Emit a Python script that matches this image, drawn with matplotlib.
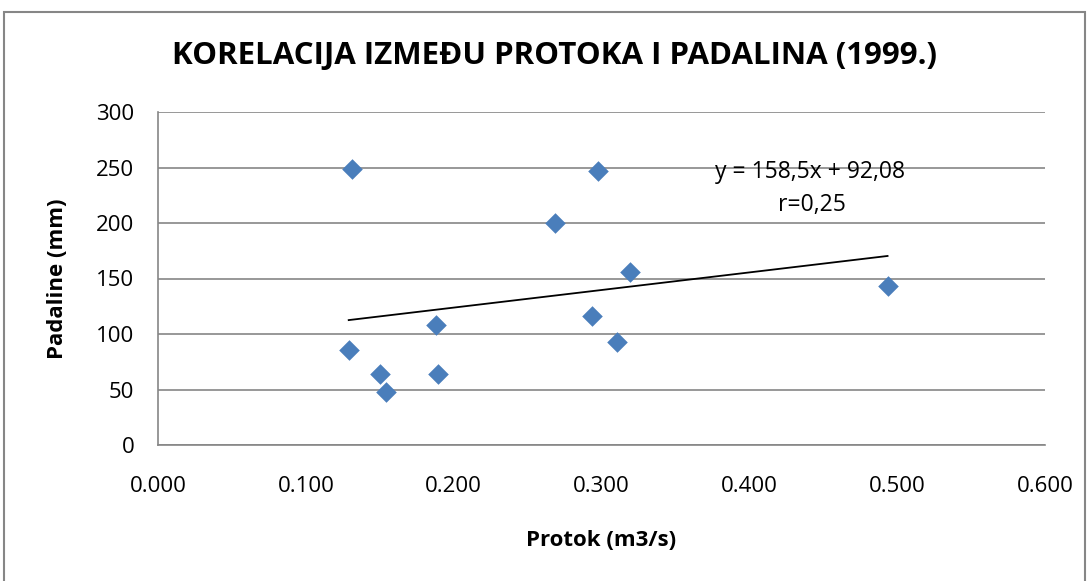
import matplotlib
matplotlib.use("Agg")
import matplotlib.pyplot as plt
import numpy as np

protok = [0.131, 0.2975, 0.2686, 0.3193, 0.4935, 0.2934, 0.3108, 0.188, 0.129, 0.150, 0.1895, 0.154]
padaline = [248.6, 246.8, 199.7, 155.6, 143.2, 116.5, 92.8, 107.8, 85.6, 63.7, 64.0, 48.0]
slope = 158.5
intercept = 92.08
eq_text = "y = 158,5x + 92,08"
r_text = "r=0,25"
title = "KORELACIJA IZMEĐU PROTOKA I PADALINA (1999.)"
xlabel = "Protok (m3/s)"
ylabel = "Padaline (mm)"
xticks = [0.0, 0.1, 0.2, 0.3, 0.4, 0.5, 0.6]
yticks = [0, 50, 100, 150, 200, 250, 300]

plt.rcParams['font.family'] = ['Open Sans', 'DejaVu Sans']

W, H = 1089, 581
fig = plt.figure(figsize=(W / 100, H / 100), dpi=100)
# outer chart border
fig.patches.append(plt.Rectangle((4 / W, -0.1), 1081 / W, 1.1 - 12 / H,
                                 transform=fig.transFigure, fill=False,
                                 edgecolor='#868686', linewidth=1.5))
ax = fig.add_axes([158 / W, 1 - 445 / H, (1045 - 158) / W, (445 - 112) / H])

ax.set_xlim(0, 0.6)
ax.set_ylim(0, 300)
ax.set_xticks(xticks)
ax.set_xticklabels([f"{t:.3f}" for t in xticks])
ax.set_yticks(yticks)
ax.grid(axis='y', color='#868686', linewidth=1.2)
ax.set_axisbelow(True)
for s in ['top', 'right']:
    ax.spines[s].set_visible(False)
for s in ['left', 'bottom']:
    ax.spines[s].set_color('#868686')
    ax.spines[s].set_linewidth(1.2)
ax.tick_params(length=0, labelsize=16)
ax.tick_params(axis='y', pad=17)
ax.tick_params(axis='x', pad=22)

xs = np.array([min(protok), max(protok)])
ax.plot(xs, slope * xs + intercept, color='black', linewidth=1.3, zorder=2)
ax.scatter(protok, padaline, marker='D', s=110, color='#4A7EBB', zorder=3, linewidths=0)

ax.text(0.4412, 246.0, eq_text, fontsize=16.5, ha='center', va='center')
ax.text(0.4424, 216.0, r_text, fontsize=16.5, ha='center', va='center')

ax.set_xlabel(xlabel, fontsize=16, fontweight='bold', labelpad=24)
ax.set_ylabel(ylabel, fontsize=16, fontweight='bold', labelpad=20)
fig.text(555 / W, 1 - 56 / H, title, fontsize=22.5, fontweight='bold', ha='center', va='center')

fig.savefig("out.png", dpi=100)
